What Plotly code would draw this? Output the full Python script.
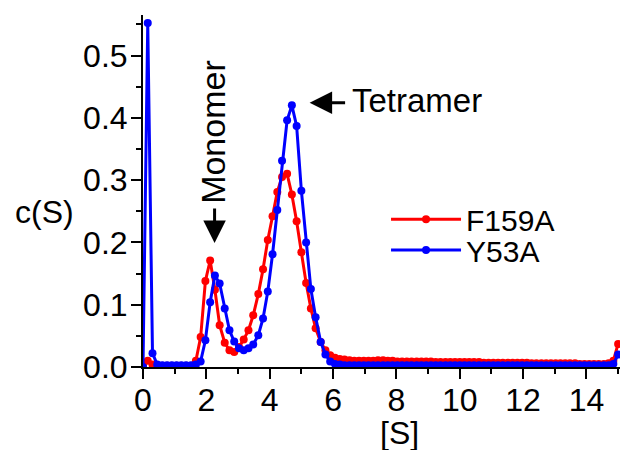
import plotly.graph_objects as go

S = [0.00, 0.15, 0.30, 0.45, 0.61, 0.76, 0.91, 1.06, 1.21, 1.36,
     1.52, 1.67, 1.82, 1.97, 2.12, 2.27, 2.42, 2.58, 2.73, 2.88,
     3.03, 3.18, 3.33, 3.48, 3.64, 3.79, 3.94, 4.09, 4.24, 4.39,
     4.55, 4.70, 4.85, 5.00, 5.15, 5.30, 5.45, 5.61, 5.76, 5.91,
     6.06, 6.21, 6.36, 6.52, 6.67, 6.82, 6.97, 7.12, 7.27, 7.42,
     7.58, 7.73, 7.88, 8.03, 8.18, 8.33, 8.48, 8.64, 8.79, 8.94,
     9.09, 9.24, 9.39, 9.55, 9.70, 9.85, 10.00, 10.15, 10.30, 10.45,
     10.61, 10.76, 10.91, 11.06, 11.21, 11.36, 11.52, 11.67, 11.82, 11.97,
     12.12, 12.27, 12.42, 12.58, 12.73, 12.88, 13.03, 13.18, 13.33, 13.48,
     13.64, 13.79, 13.94, 14.09, 14.24, 14.39, 14.55, 14.70, 14.85, 15.00]

F159A = [0.003, 0.010, 0.004, 0.002, 0.002, 0.002, 0.002, 0.002, 0.002, 0.002,
         0.002, 0.010, 0.048, 0.138, 0.171, 0.124, 0.067, 0.039, 0.027, 0.024,
         0.032, 0.044, 0.059, 0.083, 0.117, 0.157, 0.204, 0.242, 0.281, 0.305,
         0.310, 0.277, 0.234, 0.184, 0.135, 0.094, 0.062, 0.040, 0.027, 0.019,
         0.015, 0.013, 0.012, 0.011, 0.010, 0.010, 0.010, 0.010, 0.010, 0.011,
         0.011, 0.010, 0.010, 0.009, 0.009, 0.009, 0.009, 0.009, 0.009, 0.009,
         0.009, 0.008, 0.008, 0.008, 0.008, 0.008, 0.008, 0.008, 0.008, 0.008,
         0.008, 0.007, 0.007, 0.007, 0.007, 0.007, 0.007, 0.007, 0.007, 0.007,
         0.007, 0.006, 0.006, 0.006, 0.006, 0.006, 0.006, 0.006, 0.006, 0.006,
         0.006, 0.005, 0.005, 0.005, 0.005, 0.005, 0.005, 0.006, 0.010, 0.037]

Y53A = [0.000, 0.552, 0.022, 0.004, 0.003, 0.003, 0.003, 0.003, 0.003, 0.003,
        0.003, 0.004, 0.009, 0.043, 0.104, 0.147, 0.134, 0.094, 0.059, 0.041,
        0.030, 0.027, 0.030, 0.036, 0.051, 0.078, 0.121, 0.181, 0.252, 0.331,
        0.396, 0.420, 0.387, 0.283, 0.200, 0.125, 0.080, 0.040, 0.020, 0.009,
        0.005, 0.004, 0.003, 0.003, 0.003, 0.003, 0.003, 0.003, 0.003, 0.003,
        0.003, 0.003, 0.003, 0.003, 0.003, 0.003, 0.003, 0.003, 0.003, 0.003,
        0.003, 0.003, 0.003, 0.003, 0.003, 0.003, 0.003, 0.003, 0.003, 0.003,
        0.003, 0.003, 0.003, 0.003, 0.003, 0.003, 0.003, 0.003, 0.003, 0.003,
        0.003, 0.003, 0.003, 0.003, 0.003, 0.003, 0.003, 0.003, 0.003, 0.003,
        0.003, 0.003, 0.003, 0.003, 0.003, 0.003, 0.003, 0.003, 0.005, 0.020]

X_TICKS = [0, 2, 4, 6, 8, 10, 12, 14]
Y_TICKS = [0.0, 0.1, 0.2, 0.3, 0.4, 0.5]

FONT = "Liberation Sans, Arial, sans-serif"
RED = "#ff0000"
BLUE = "#0000ff"

fig = go.Figure()
fig.add_trace(go.Scatter(x=S, y=F159A, name="F159A", mode="lines+markers",
                         line=dict(color=RED, width=3),
                         marker=dict(color=RED, size=8), legend="legend"))
fig.add_trace(go.Scatter(x=S, y=Y53A, name="Y53A", mode="lines+markers",
                         line=dict(color=BLUE, width=3),
                         marker=dict(color=BLUE, size=8), legend="legend2"))

axis_common = dict(showline=True, linecolor="black", linewidth=2,
                   showgrid=False, zeroline=False, ticks="outside",
                   ticklen=10, tickwidth=2, tickcolor="black",
                   tickfont=dict(family=FONT, size=32, color="black"))

fig.update_xaxes(range=[0, 15.06], tickvals=X_TICKS, ticklabelstandoff=-6,
                 minor=dict(dtick=1, tick0=0, ticks="outside", ticklen=5,
                            tickwidth=2, tickcolor="black"),
                 **axis_common)
fig.update_yaxes(range=[0, 0.565], tickvals=Y_TICKS, tickformat=".1f",
                 ticklabelstandoff=-3,
                 minor=dict(dtick=0.05, tick0=0, ticks="outside", ticklen=5,
                            tickwidth=2, tickcolor="black"),
                 **axis_common)

leg = dict(font=dict(family=FONT, size=30, color="black"), bgcolor="rgba(0,0,0,0)",
           xanchor="left", yanchor="middle", itemwidth=70, borderwidth=0)
fig.update_layout(
    width=622, height=450,
    margin=dict(l=143, r=2, t=15, b=83),
    plot_bgcolor="white", paper_bgcolor="white",
    showlegend=True,
    legend=dict(x=0.5095, y=0.4195, **leg),
    legend2=dict(x=0.5095, y=0.3325, **leg),
    annotations=[
        dict(text="c(S)", xref="paper", yref="paper", x=-0.2075, y=0.44,
             showarrow=False, xanchor="center", yanchor="middle",
             font=dict(family=FONT, size=32, color="black")),
        dict(text="[S]", xref="paper", yref="paper", x=0.537, y=-0.1875,
             showarrow=False, xanchor="center", yanchor="middle",
             font=dict(family=FONT, size=32, color="black")),
        dict(text="Monomer", x=2.19, y=0.378, xref="x", yref="y",
             showarrow=False, textangle=-90, xanchor="center", yanchor="middle",
             font=dict(family=FONT, size=34, color="black")),
        dict(text="", x=2.26, y=0.199, xref="x", yref="y", ax=0, ay=-36,
             showarrow=True, arrowhead=2, arrowsize=1.5, arrowwidth=3,
             arrowcolor="black"),
        dict(text="Tetramer", x=6.53, y=0.428, xref="x", yref="y",
             showarrow=False, xanchor="left", yanchor="middle",
             font=dict(family=FONT, size=33, color="black")),
        dict(text="", x=5.26, y=0.424, xref="x", yref="y", ax=37, ay=0,
             showarrow=True, arrowhead=2, arrowsize=1.5, arrowwidth=3,
             arrowcolor="black"),
    ],
)

fig.write_html("out.html", config={"displayModeBar": False},
               post_script="document.body.style.margin='0';")
